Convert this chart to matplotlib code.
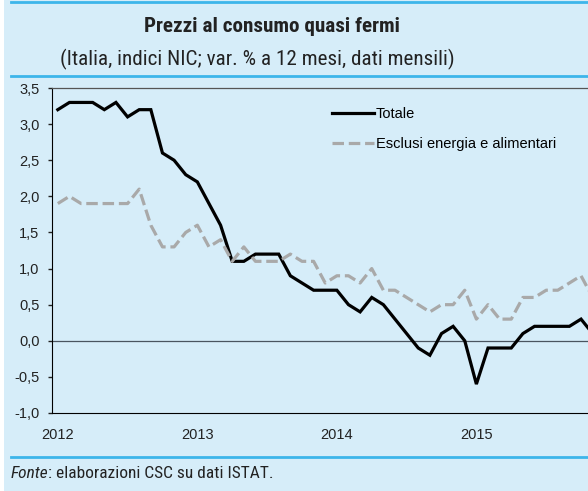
import matplotlib
matplotlib.use("Agg")
import matplotlib.pyplot as plt
from matplotlib.lines import Line2D
from matplotlib.patches import Rectangle
from matplotlib.text import Annotation

# dati mensili da gennaio 2012 a novembre 2015 (var. % a 12 mesi)
totale = [3.2, 3.3, 3.3, 3.3, 3.2, 3.3, 3.1, 3.2, 3.2, 2.6, 2.5, 2.3,
          2.2, 1.9, 1.6, 1.1, 1.1, 1.2, 1.2, 1.2, 0.9, 0.8, 0.7, 0.7,
          0.7, 0.5, 0.4, 0.6, 0.5, 0.3, 0.1, -0.1, -0.2, 0.1, 0.2, 0.0,
          -0.6, -0.1, -0.1, -0.1, 0.1, 0.2, 0.2, 0.2, 0.2, 0.3, 0.1]
esclusi = [1.9, 2.0, 1.9, 1.9, 1.9, 1.9, 1.9, 2.1, 1.6, 1.3, 1.3, 1.5,
           1.6, 1.3, 1.4, 1.1, 1.3, 1.1, 1.1, 1.1, 1.2, 1.1, 1.1, 0.8,
           0.9, 0.9, 0.8, 1.0, 0.7, 0.7, 0.6, 0.5, 0.4, 0.5, 0.5, 0.7,
           0.3, 0.5, 0.3, 0.3, 0.6, 0.6, 0.7, 0.7, 0.8, 0.9, 0.6]
anni = ["2012", "2013", "2014", "2015"]
mesi = list(range(len(totale)))

bg = "#D6EDF9"
blu = "#3DB5EA"
narrow = ["Roboto Condensed", "Roboto", "DejaVu Sans"]
sans = ["Liberation Sans", "DejaVu Sans"]

W, H = 588, 491
fig = plt.figure(figsize=(W / 100, H / 100), dpi=100)
fig.patch.set_facecolor("white")
fig.patches.append(Rectangle((4 / W, 0), 1, 1, transform=fig.transFigure,
                             facecolor=bg, edgecolor="none", zorder=-10))


def hline(y, lw):
    fig.add_artist(Line2D([11 / W, 1], [1 - y / H, 1 - y / H], color=blu, lw=lw))


hline(2, 2.0)
hline(75.5, 2.0)
hline(456.5, 2.0)

fig.text(271.5 / W, 1 - 27 / H, "Prezzi al consumo quasi fermi", ha="center", va="center",
         fontsize=15.2, fontweight="bold", family=narrow, color="#222222")
fig.text(257.5 / W, 1 - 59.5 / H, "(Italia, indici NIC; var. % a 12 mesi, dati mensili)",
         ha="center", va="center", fontsize=15.2, family=narrow, color="#222222")
fonte = fig.text(11 / W, 1 - 481 / H, "Fonte", ha="left", va="bottom", fontsize=12.5,
                 family=narrow, style="italic", color="#222222")
fig.add_artist(Annotation(": elaborazioni CSC su dati ISTAT.", xy=(1, 0), xycoords=fonte,
                          xytext=(-0.5, 0), textcoords="offset points",
                          va="bottom", ha="left", fontsize=12.5, family=narrow,
                          color="#222222"))

ax = fig.add_axes([52 / W, 78 / H, 1 - 52 / W, (413 - 88) / H])
ax.set_facecolor(bg)

ax.plot(mesi, totale, color="black", lw=2.3, label="Totale", solid_joinstyle="miter")
l2, = ax.plot(mesi, esclusi, color="#A9A9A9", lw=2.3, label="Esclusi energia e alimentari")
l2.set_dashes([3.6, 1.5])
ax.axhline(0, color="#4A5560", lw=0.9, zorder=1)

ax.set_ylim(-1.0, 3.5)
ax.set_xlim(-0.5, 45.6)
yt = [-1.0, -0.5, 0.0, 0.5, 1.0, 1.5, 2.0, 2.5, 3.0, 3.5]
ax.set_yticks(yt)
ax.set_yticklabels([f"{v:.1f}".replace(".", ",") for v in yt], family=sans, fontsize=10.5)
ax.set_xticks([0, 12, 24, 36])
ax.set_xticklabels(anni, family=sans, fontsize=10.5)
ax.tick_params(axis="y", direction="out", length=3, width=1, pad=6, colors="#222222")
ax.tick_params(axis="x", length=0, pad=11, colors="#222222")

ax.spines["right"].set_visible(False)
ax.spines["top"].set_color("#555555")
ax.spines["top"].set_linewidth(0.9)
ax.spines["left"].set_color("black")
ax.spines["bottom"].set_color("black")

leg = ax.legend(loc="upper left", bbox_to_anchor=(332 / W, 1 - 107.5 / H),
                bbox_transform=fig.transFigure, frameon=False, borderpad=0,
                borderaxespad=0, handlelength=2.9, handletextpad=0.1,
                labelspacing=1.05, prop={"family": sans, "size": 10.5})

fig.savefig("out.png", dpi=100, facecolor=fig.get_facecolor())
